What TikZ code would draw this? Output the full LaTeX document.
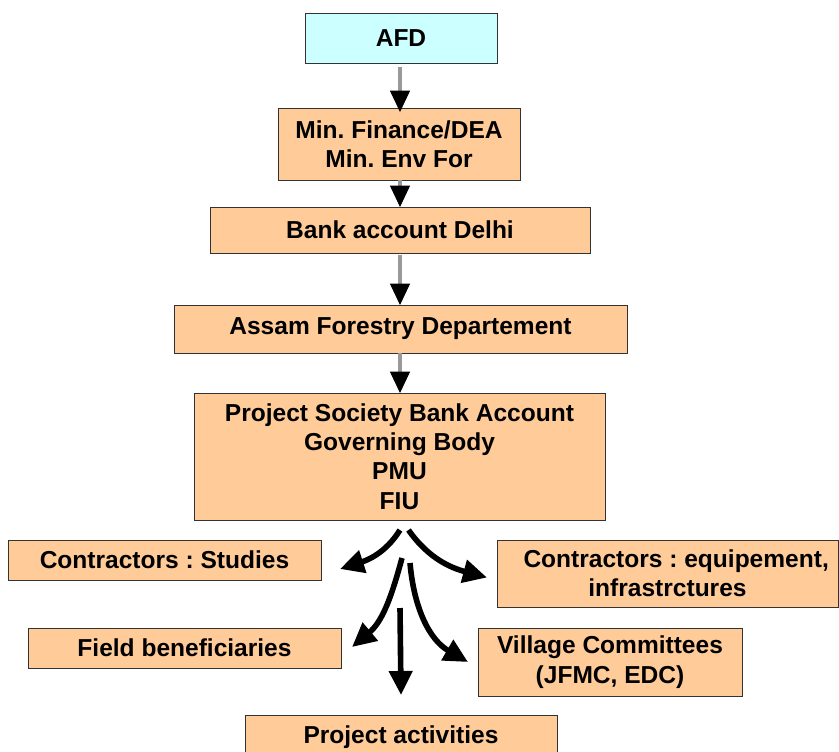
\documentclass[tikz,border=0pt]{standalone}
\usepackage{fontspec}
\setmainfont{Liberation Sans}
\usepackage{tikz}
\usetikzlibrary{calc,arrows.meta}
\definecolor{boxorange}{HTML}{FFCC99}
\definecolor{boxcyan}{HTML}{CCFFFF}
\frenchspacing

\begin{document}
\begin{tikzpicture}[x=0.75pt,y=-0.75pt,
  box/.style={draw=black!80,line width=0.75pt,fill=boxorange,inner sep=0pt,outer sep=0pt,
    align=center,font=\fontsize{18.4}{22}\selectfont\bfseries},
  dbl/.style={draw=black,double=black!40,double distance=2.4pt,line width=0.6pt,
    -{Triangle[width=15pt,length=16pt]}},
  flow/.style={line width=4.2pt,-{Triangle[width=17pt,length=18pt]}}
  ]
\def\px{0.75pt}
\useasboundingbox[fill=white] (0,0) rectangle (839,751);
\node[box,fill=boxcyan,minimum width=192*\px,minimum height=50*\px] (afd) at (401,38) {AFD};  % donor
\node[box,minimum width=242*\px,minimum height=72*\px] (min) at (399,144) {Min. Finance/DEA\\Min. Env For};
\node[box,minimum width=380*\px,minimum height=46*\px] (bank) at (400,230) {Bank account Delhi};
\node[box,minimum width=453*\px,minimum height=48*\px] (assam) at (400.5,329) {Assam Forestry Departement};
\node[box,minimum width=411*\px,minimum height=127*\px] (society) at (399.5,456.5)
  {Project Society Bank Account\\Governing Body\\PMU\\FIU};
\node[box,minimum width=313*\px,minimum height=40*\px] (studies) at (164.5,560) {Contractors : Studies};
\node[box,minimum width=341*\px,minimum height=67*\px] (equip) at (667.5,573.5)
  {\hspace*{13pt}Contractors : equipement,\\infrastrctures};
\node[box,minimum width=313*\px,minimum height=40*\px] (field) at (184.5,648) {Field beneficiaries};
\node[box,minimum width=264*\px,minimum height=68*\px] (village) at (610,662) {Village Committees\\(JFMC, EDC)};
\node[box,minimum width=312*\px,minimum height=44*\px] (activities) at (401,737) {Project activities};
% transfers down the chain (all on x=400)
\draw[dbl] ([shift={(-1,4)}]afd.south) -- ([shift={(-1,4)}]afd.south |- min.north);
\draw[dbl] ([shift={(1,0)}]min.south) -- (bank.north);
\draw[dbl] ([shift={(0,2)}]bank.south) -- (bank.south |- assam.north);
\draw[dbl] ([shift={(-0.5,0)}]assam.south) -- ([shift={(-0.5,0)}]assam.south |- society.north);
% spending
\coordinate (s1) at ($(society.south)+(0.5,10)$);
\coordinate (s2) at ($(society.south)+(9,10)$);
\coordinate (s3) at ($(society.south)+(2.5,38)$);
\coordinate (s4) at ($(society.south)+(10.5,43)$);
\coordinate (s5) at ($(society.south)+(0.5,88)$);
\draw[flow] (s1) to[out=-122,in=18] ([shift={(19,9)}]studies.east);
\draw[flow] (s2) to[out=-55,in=165] ([shift={(-10,4)}]equip.west);
\draw[flow] (s3) to[out=-105,in=40] ([shift={(11,-1)}]field.east);
\draw[flow] (s4) to[out=-85,in=150] ([shift={(-10,0)}]village.west);
\draw[flow] (s5) -- ([shift={(0,-20)}]activities.north);
\end{tikzpicture}
\end{document}
